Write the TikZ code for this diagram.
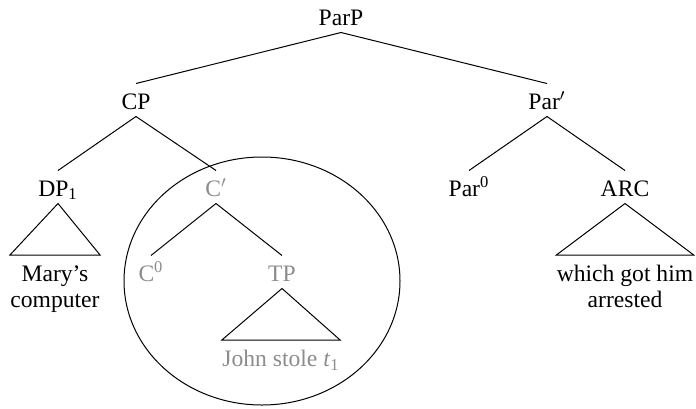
\documentclass[tikz,border=0pt]{standalone}
\usepackage{fontspec}
\setmainfont{Liberation Serif}
\usetikzlibrary{positioning}

\begin{document}
\begin{tikzpicture}[x=0.5pt, y=-0.5pt, line width=0.5pt,
    every node/.style={font=\fontsize{11.8}{13}\selectfont},
    cat/.style={anchor=base, inner xsep=1pt, inner ysep=3.5pt, text height=9pt, text depth=0pt},
    leaf/.style={anchor=north, align=center, inner xsep=0pt, inner ysep=5pt},
    faded/.style={text=black!45}]
    \useasboundingbox (0,0) rectangle (696,408);
    % categories
    \node[cat] (parp) at (341,25) {ParP};
    \node[cat] (cp) at (136,109) {CP};
    \node[cat] (parbar) at (547,109) {Par$'$};
    \node[cat] (dp) at (58,196) {DP\textsubscript{1}};
    \node[cat, faded] (cbar) at (216,196) {C$'$};
    \node[cat] (parhead) at (469,196) {Par\textsuperscript{0}};
    \node[cat] (arc) at (625,196) {ARC};
    \node[cat, faded] (chead) at (151,281) {C\textsuperscript{0}};
    \node[cat, faded] (tp) at (282,281) {TP};
    % leaves
    \node[leaf] (dpleaf) at (55,255) {Mary’s\\computer};
    \node[leaf, faded] (tpleaf) at (281,340) {John stole \textit{t}\textsubscript{1}};
    \node[leaf] (arcleaf) at (625,255) {which got him\\arrested};
    % branches
    \draw (parp.south) -- (cp.north);
    \draw (parp.south) -- (parbar.north);
    \draw (cp.south) -- (dp.north);
    \draw (cp.south) -- (cbar.north);
    \draw (parbar.south) -- (parhead.north);
    \draw (parbar.south) -- (arc.north);
    \draw (cbar.south) -- (chead.north);
    \draw (cbar.south) -- (tp.north);
    % triangles
    \draw (dp.south) -- (dpleaf.north west) -- (dpleaf.north east) -- cycle;
    \draw (tp.south) -- (tpleaf.north west) -- (tpleaf.north east) -- cycle;
    \draw (arc.south) -- (arcleaf.north west) -- (arcleaf.north east) -- cycle;
    % circled constituent
    \coordinate (ring) at (262,281);
    \draw (ring) ellipse [x radius=69pt, y radius=62pt];
\end{tikzpicture}
\end{document}
